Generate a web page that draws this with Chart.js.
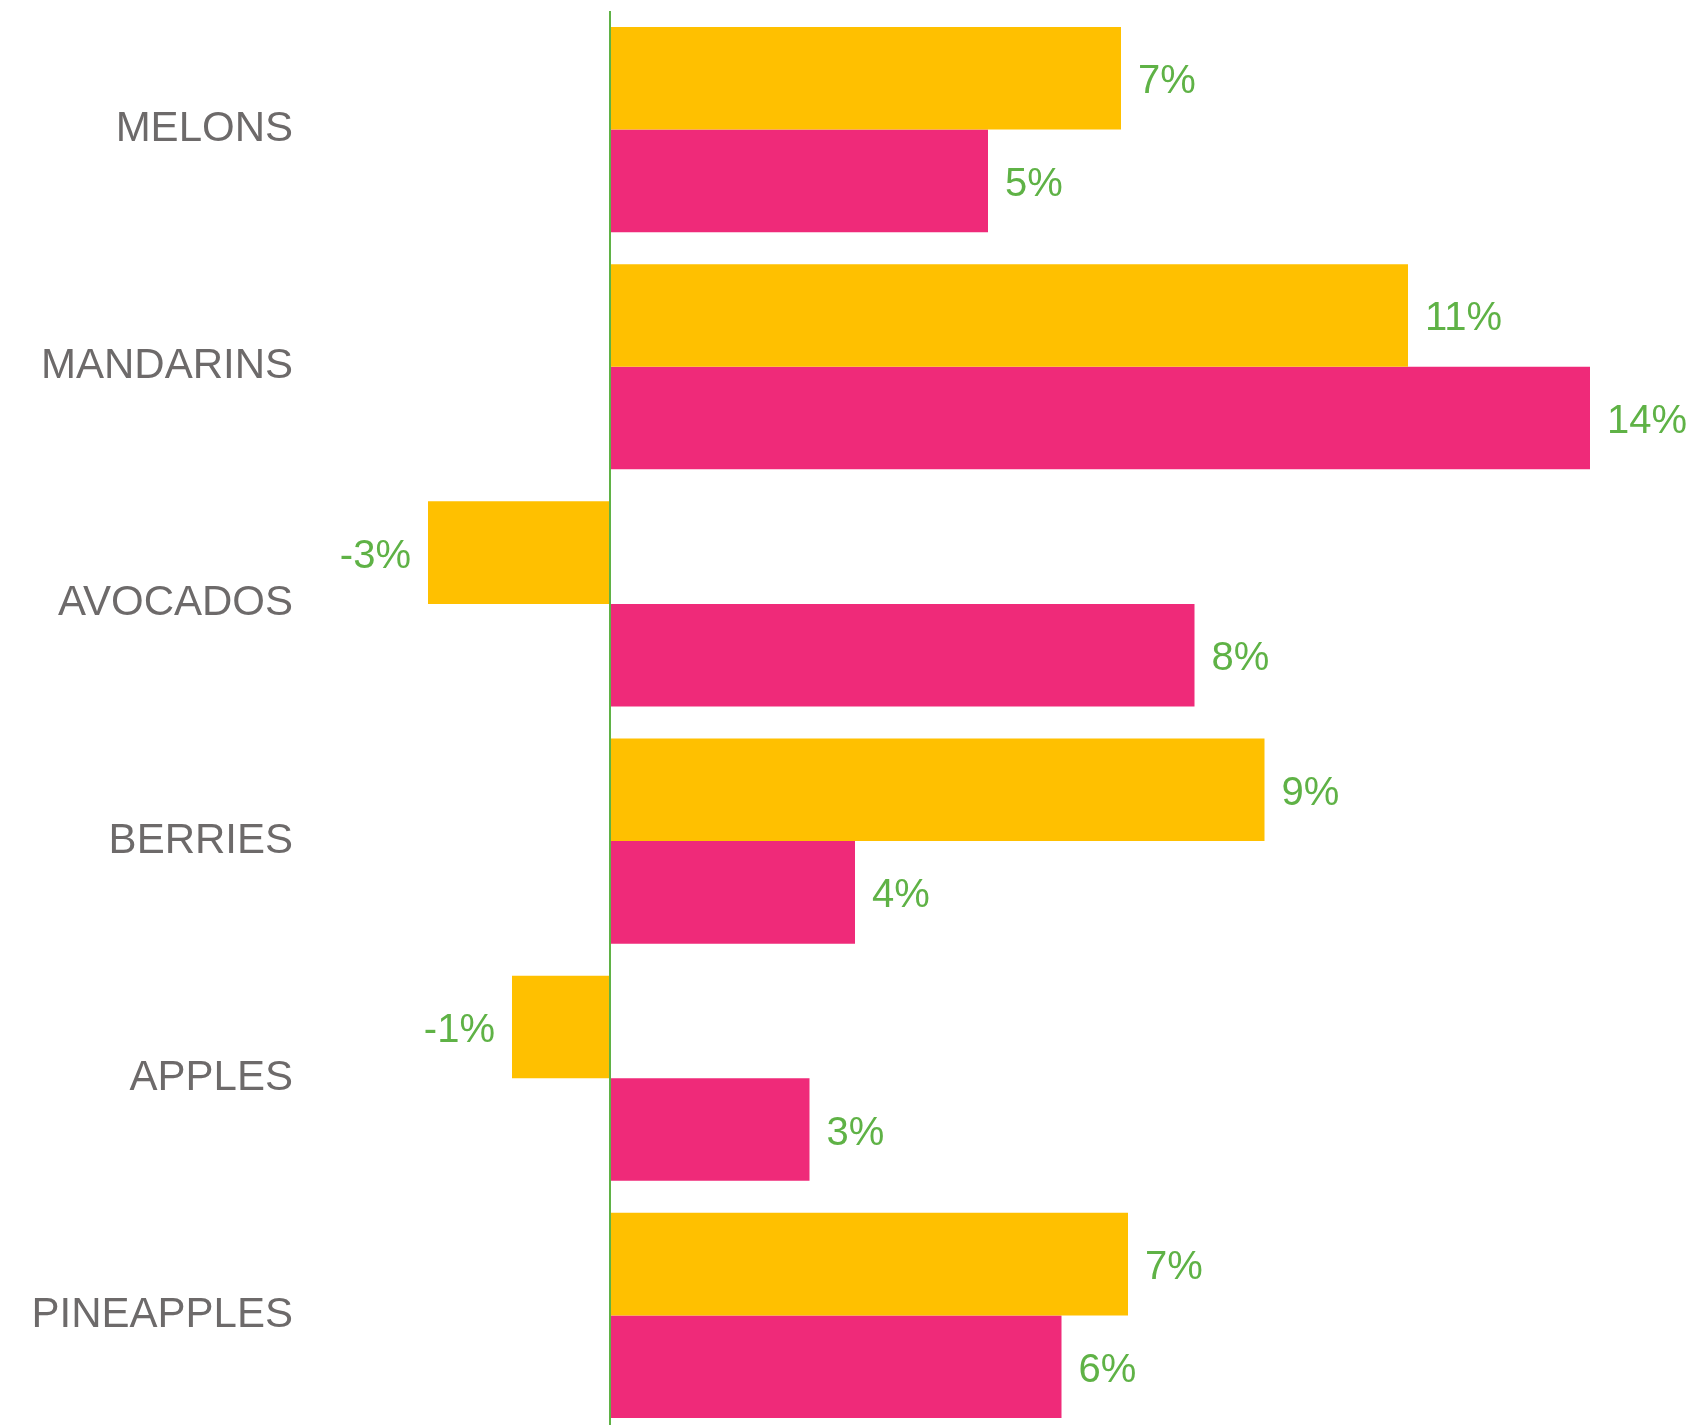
<!DOCTYPE html>
<html>
<head>
<meta charset="utf-8">
<script src="https://cdn.jsdelivr.net/npm/chart.js@4/dist/chart.umd.min.js"></script>
<style>
  html, body { margin: 0; padding: 0; background: #fff; overflow: hidden; }
  #wrap { position: relative; width: 1692px; height: 1434px; }
</style>
</head>
<body>
<div id="wrap"><canvas id="chart"></canvas></div>
<script>
// Data
const fruits     = ['MELONS', 'MANDARINS', 'AVOCADOS', 'BERRIES', 'APPLES', 'PINEAPPLES'];
const growthA    = [0.073, 0.114, -0.026, 0.0935, -0.014, 0.074];   // yellow series
const growthB    = [0.054, 0.140,  0.0835, 0.035,  0.0285, 0.0645]; // pink series

// Styles
const YELLOW = '#FFC000';
const PINK   = '#EF2A79';
const GREEN  = '#5FB246';
const GRAY   = '#6D6A6A';
const FONT   = '"Liberation Sans", Arial, sans-serif';

const pct = (v)=> `${Math.round(v * 100)}%`;

// value labels next to the end of each bar
const barLabels = {
  id: 'barLabels',
  afterDatasetsDraw(chart){
    const ctx = chart.ctx;
    ctx.save();
    ctx.font = `40px ${FONT}`;
    ctx.fillStyle = GREEN;
    ctx.textBaseline = 'middle';
    chart.data.datasets.forEach((ds, di)=>{
      chart.getDatasetMeta(di).data.forEach((bar, i)=>{
        const v = ds.data[i];
        const neg = v < 0;
        ctx.textAlign = neg ? 'right' : 'left';
        ctx.fillText(pct(v), bar.x + (neg ? -17 : 17), bar.y + 4);
      });
    });
    ctx.restore();
  }
};

// no extra room for the outer tick labels
const noPad = (s)=>{ s.paddingTop = 0; s.paddingBottom = 0; s.paddingLeft = 0; s.paddingRight = 0; };

new Chart(document.getElementById('chart'), {
  type: 'bar',
  data: {
    labels: fruits,
    datasets: [
      { data: growthA, backgroundColor: YELLOW, borderWidth: 0 },
      { data: growthB, backgroundColor: PINK,   borderWidth: 0 }
    ]
  },
  options: {
    indexAxis: 'y',
    responsive: true, maintainAspectRatio: false, animation: false,
    layout: { padding: { top: 11, right: 11, left: 0, bottom: 0 } },
    datasets: { bar: { barPercentage: 1, categoryPercentage: 0.865 } },
    plugins: { legend: { display: false }, tooltip: { enabled: false } },
    scales: {
      x: {
        min: -0.04, max: 0.153,
        ticks: { display: false, stepSize: 0.01 },
        border: { display: false },
        grid: {
          drawTicks: false,
          lineWidth: 2,
          color: (c)=> (c.tick && Math.abs(c.tick.value) < 1e-9) ? GREEN : 'rgba(0,0,0,0)'
        },
        afterFit: (s)=>{ s.height = 0; noPad(s); }
      },
      y: {
        border: { display: false },
        grid: { display: false },
        ticks: { color: GRAY, padding: 29, font: { family: FONT, size: 42 } },
        afterFit: (s)=>{ s.width = 330; noPad(s); }
      }
    }
  },
  plugins: [barLabels]
});
</script>
</body>
</html>
